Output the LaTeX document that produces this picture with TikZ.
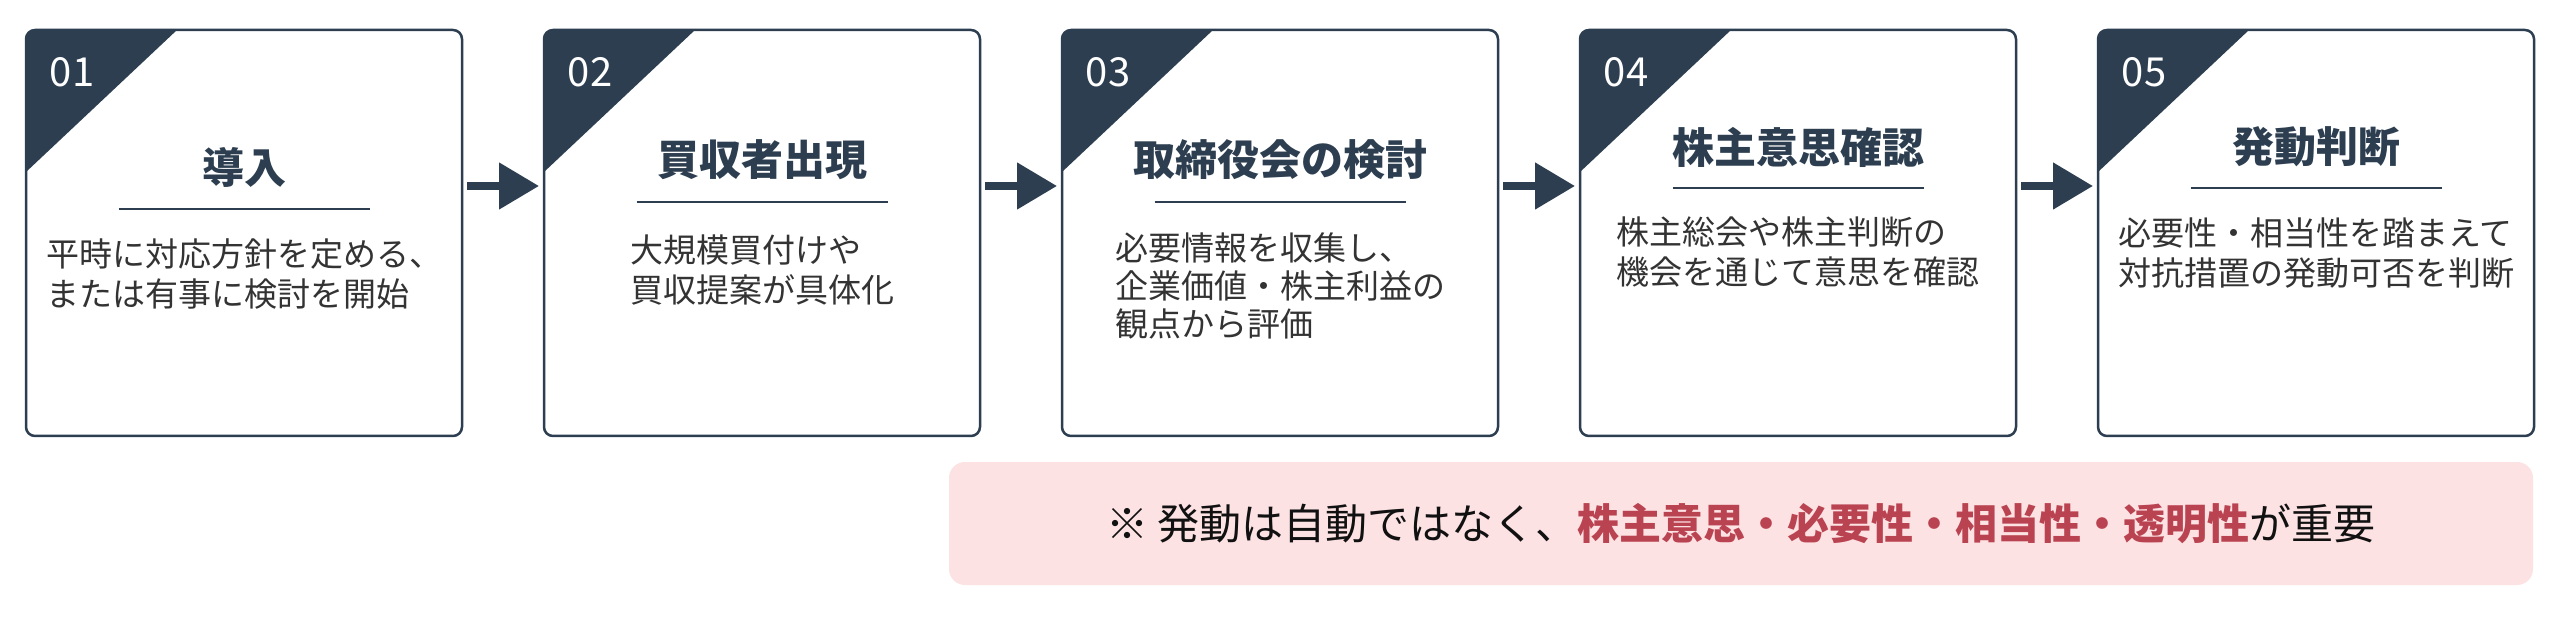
\documentclass[tikz,border=0pt]{standalone}
\usepackage{fontspec}
\setmainfont{Noto Sans CJK JP}
\usetikzlibrary{arrows.meta}
\definecolor{slate}{HTML}{2C3E50}
\definecolor{bodytext}{HTML}{333333}
\definecolor{notebg}{HTML}{FDE2E4}
\definecolor{notered}{HTML}{B94350}
\definecolor{notetext}{HTML}{111111}
\begin{document}
\begin{tikzpicture}[x=1pt,y=-1pt,
  stepbox/.style={draw=slate, line width=2.5pt, fill=white, rounded corners=9pt,
    minimum width=436pt, minimum height=406pt, inner sep=0pt, outer sep=0pt},
  numlabel/.style={text=white, font=\fontsize{40}{48}\selectfont, inner sep=0pt},
  titlelabel/.style={text=slate, font=\fontsize{42}{50}\selectfont\bfseries, inner sep=0pt},
  desclabel/.style={text=bodytext, font=\fontsize{33}{40}\selectfont, align=left, inner sep=0pt, anchor=north},
  desctight/.style={desclabel, font=\fontsize{33}{38}\selectfont},
  titlerule/.style={draw=slate, line width=2pt},
  flowarrow/.style={draw=slate, line width=8pt, -{Triangle[length=40pt,width=45pt]}},
  notebox/.style={fill=notebg, rounded corners=16pt, minimum width=1584pt, minimum height=123pt,
    inner sep=0pt, font=\fontsize{42}{50}\selectfont, text=notetext},
]
\path[use as bounding box] (0,0) rectangle (2560,617);
\fill[white] (0,0) rectangle (2560,617);

% boxes
\node[stepbox] (b1) at (244,233) {};
\node[stepbox] (b2) at (762,233) {};
\node[stepbox] (b3) at (1280,233) {};
\node[stepbox] (b4) at (1798,233) {};
\node[stepbox] (b5) at (2316,233) {};

% corner triangles
\foreach \i in {1,...,5} {
  \begin{scope}
    \clip[rounded corners=9pt] (b\i.north west) rectangle (b\i.south east);
    \fill[slate] (b\i.north west) -- ([xshift=151pt]b\i.north west) -- ([yshift=-142pt]b\i.north west) -- cycle;
  \end{scope}
}

% numbers
\node[numlabel] (n1) at ([xshift=46pt,yshift=-42pt]b1.north west) {01};
\node[numlabel] (n2) at ([xshift=46pt,yshift=-42pt]b2.north west) {02};
\node[numlabel] (n3) at ([xshift=46pt,yshift=-42pt]b3.north west) {03};
\node[numlabel] (n4) at ([xshift=46pt,yshift=-42pt]b4.north west) {04};
\node[numlabel] (n5) at ([xshift=46pt,yshift=-42pt]b5.north west) {05};

% titles
\node[titlelabel] (t1) at (244,167) {導入};
\node[titlelabel] (t2) at (762,160) {買収者出現};
\node[titlelabel] (t3) at (1280,160) {取締役会の検討};
\node[titlelabel] (t4) at (1798,147) {株主意思確認};
\node[titlelabel] (t5) at (2316,147) {発動判断};

% rules
\draw[titlerule] (118.5,209) -- (369.5,209);
\draw[titlerule] (636.5,202) -- (887.5,202);
\draw[titlerule] (1154.5,202) -- (1405.5,202);
\draw[titlerule] (1672.5,188) -- (1923.5,188);
\draw[titlerule] (2190.5,188) -- (2441.5,188);

% descriptions
\node[desclabel] (d1) at (244,238) {平時に対応方針を定める、\\または有事に検討を開始};
\node[desclabel] (d2) at (762,235) {大規模買付けや\\買収提案が具体化};
\node[desctight] (d3) at (1280,233) {必要情報を収集し、\\企業価値・株主利益の\\観点から評価};
\node[desclabel] (d4) at (1798,217) {株主総会や株主判断の\\機会を通じて意思を確認};
\node[desclabel] (d5) at (2316,218) {必要性・相当性を踏まえて\\対抗措置の発動可否を判断};

% arrows
\draw[flowarrow] ([xshift=5pt,yshift=47pt]b1.east) -- ([xshift=-5pt,yshift=47pt]b2.west);
\draw[flowarrow] ([xshift=5pt,yshift=47pt]b2.east) -- ([xshift=-5pt,yshift=47pt]b3.west);
\draw[flowarrow] ([xshift=5pt,yshift=47pt]b3.east) -- ([xshift=-5pt,yshift=47pt]b4.west);
\draw[flowarrow] ([xshift=5pt,yshift=47pt]b4.east) -- ([xshift=-5pt,yshift=47pt]b5.west);

% note
\node[notebox] (note) at (1741,523.5) {※ 発動は自動ではなく、{\bfseries\color{notered}株主意思・必要性・相当性・透明性}が重要};
\end{tikzpicture}
\end{document}
